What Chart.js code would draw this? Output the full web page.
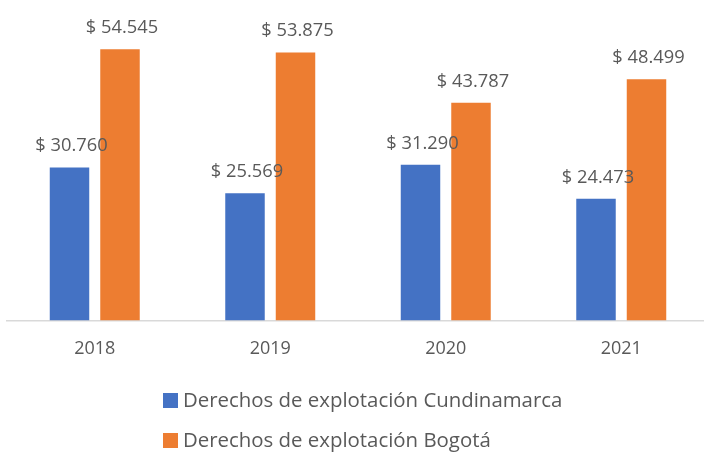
<!DOCTYPE html>
<html>
<head>
<meta charset="utf-8">
<script src="https://cdn.jsdelivr.net/npm/chart.js@4/dist/chart.umd.min.js"></script>
<style>
    html, body { margin: 0; padding: 0; background: #fff; overflow: hidden; }
    #wrap { width: 709px; height: 456px; }
</style>
</head>
<body>
<div id="wrap"><canvas id="chart" width="709" height="456"></canvas></div>
<script>
// ---------- Data ----------
const years = ["2018", "2019", "2020", "2021"];
const cundinamarca = [30760, 25569, 31290, 24473];
const bogota = [54545, 53875, 43787, 48499];
const seriesNames = ["Derechos de explotación Cundinamarca", "Derechos de explotación Bogotá"];

const BLUE = "#4472C4";
const ORANGE = "#ED7D31";
const TEXT = "#595959";
const FONT = "'Open Sans', 'Noto Sans', sans-serif";

// thousands with dots: 54545 -> 54.545
function money(v) {
    return "$ " + String(v).replace(/\B(?=(\d{3})+(?!\d))/g, ".");
}

// ---------- Value labels above bars ----------
const valueLabels = {
    id: "valueLabels",
    afterDatasetsDraw(chart) {
        const ctx = chart.ctx;
        ctx.save();
        ctx.font = "18.3px " + FONT;
        ctx.fillStyle = TEXT;
        ctx.textAlign = "center";
        ctx.textBaseline = "alphabetic";
        chart.data.datasets.forEach((ds, i) => {
            chart.getDatasetMeta(i).data.forEach((bar, j) => {
                ctx.fillText(money(ds.data[j]), bar.x + 2, bar.y - 16);
            });
        });
        ctx.restore();
    }
};

// ---------- Stacked legend under the axis ----------
const stackedLegend = {
    id: "stackedLegend",
    afterDraw(chart) {
        const ctx = chart.ctx;
        ctx.save();
        ctx.font = "20.4px " + FONT;
        ctx.textBaseline = "middle";
        chart.data.datasets.forEach((ds, i) => {
            const y = 401 + i * 40;
            ctx.fillStyle = ds.backgroundColor;
            ctx.fillRect(163, y - 8, 15, 15);
            ctx.fillStyle = TEXT;
            ctx.fillText(ds.label, 183, y);
        });
        ctx.restore();
    }
};

const ctx = document.getElementById("chart").getContext("2d");

new Chart(ctx, {
    type: "bar",
    data: {
        labels: years,
        datasets: [
            {
                label: seriesNames[0],
                data: cundinamarca,
                backgroundColor: BLUE,
                categoryPercentage: 0.5755,
                barPercentage: 0.782
            },
            {
                label: seriesNames[1],
                data: bogota,
                backgroundColor: ORANGE,
                categoryPercentage: 0.5755,
                barPercentage: 0.782
            }
        ]
    },
    options: {
        responsive: false,
        animation: false,
        layout: { padding: { top: 22, left: 7, right: 0, bottom: 0 } },
        plugins: {
            legend: { display: false },
            tooltip: { enabled: false }
        },
        scales: {
            x: {
                grid: { display: false, drawTicks: false },
                border: { display: true, color: "#D9D9D9", width: 1.5 },
                ticks: {
                    color: TEXT,
                    font: { family: FONT, size: 18 },
                    padding: 18
                },
                afterFit(scale) {
                    scale.height = 135.5;
                }
            },
            y: {
                display: false,
                min: 0,
                max: 60000
            }
        }
    },
    plugins: [valueLabels, stackedLegend]
});
</script>
</body>
</html>
